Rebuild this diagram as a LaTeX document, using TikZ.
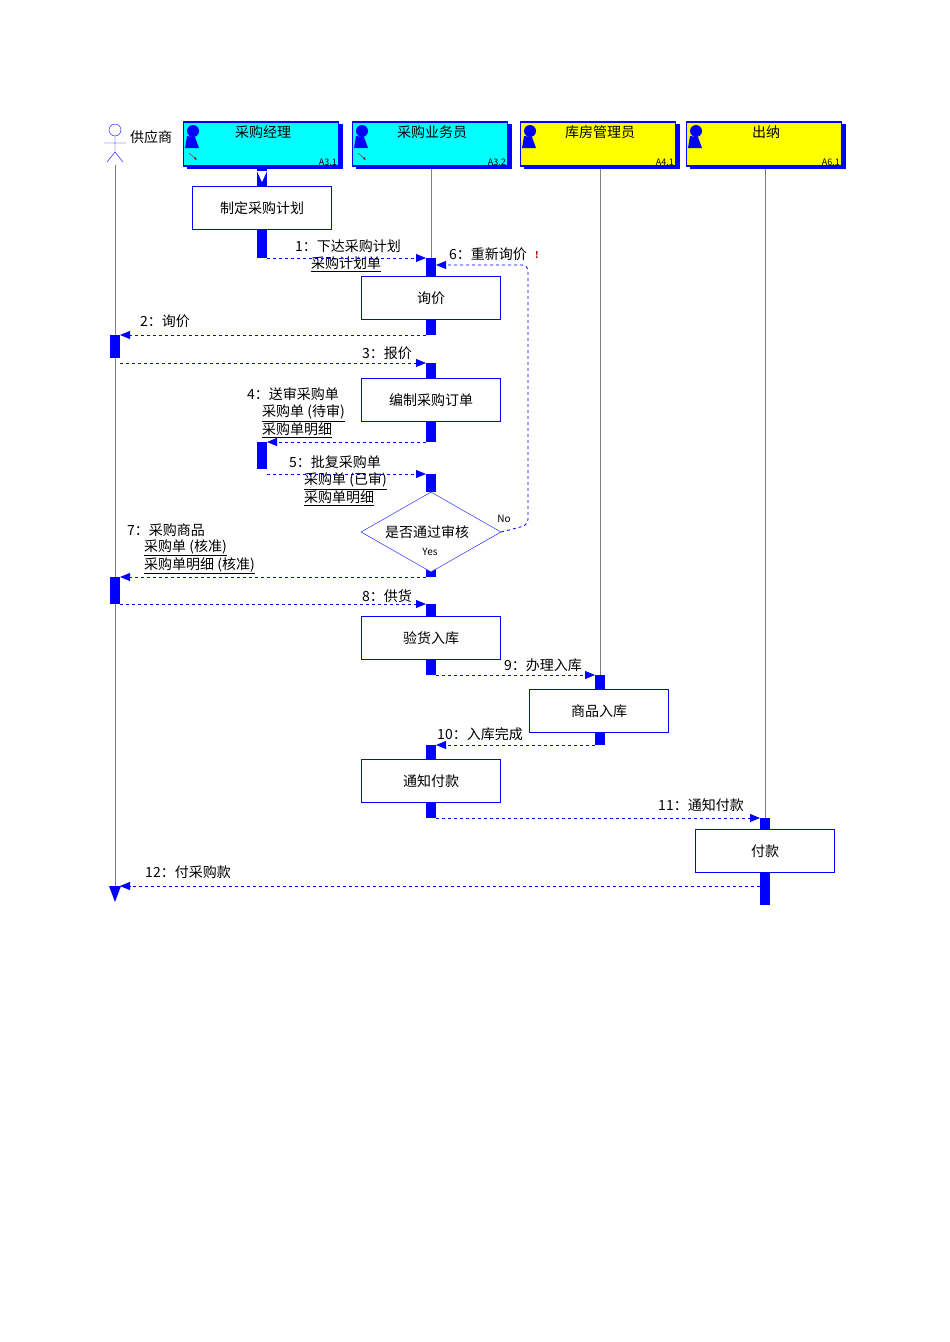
\documentclass[tikz,border=0pt]{standalone}
\usepackage{fontspec}
\setmainfont{Noto Sans CJK SC}
\usetikzlibrary{arrows.meta,shapes.geometric}

\definecolor{aqua}{RGB}{0,255,255}
\definecolor{lemon}{RGB}{255,255,0}
\tikzset{
  role/.style={draw=blue, line width=1.2pt, minimum width=155pt, minimum height=44pt, inner sep=0pt},
  task/.style={draw=blue, fill=white, minimum width=139pt, minimum height=43pt, inner sep=0pt},
  bar/.style={fill=blue, draw=none},
  life/.style={draw=gray, line width=0.8pt},
  msg/.style={draw=blue, dashed, line width=0.8pt, -{Triangle[length=10pt,width=8pt]}},
  lbl/.style={font=\fontsize{14}{16}\selectfont, inner sep=1pt}
}

\begin{document}
\begin{tikzpicture}[x=1pt,y=-1pt]
  \fill[white] (0,0) rectangle (950,1342);

  % lifelines
  \draw[life] (115,165) -- (115,890);
  \draw[life] (431,167) -- (431,258);
  \draw[life] (600,167) -- (600,677);
  \draw[life] (765,167) -- (765,818);

  % actor
  \draw[blue] (115,130) circle (6pt);
  \draw[blue] (115,136) -- (115,152) (104,143) -- (126,143) (107,162) -- (115,152) -- (123,162);
  \node[lbl, anchor=west] (sup) at (129,137) {供应商};

  % roles
  \foreach \cx/\col/\name/\code/\id in {263/aqua/采购经理/A3.1/r1, 432/aqua/采购业务员/A3.2/r2, 600/lemon/库房管理员/A4.1/r3, 766/lemon/出纳/A6.1/r4} {
    \fill[blue] (\cx-76,124) rectangle (\cx+80,169);
    \node[role, fill=\col] (\id) at (\cx-2,144) {};
    \node[lbl] at (\cx,132) {\name};
    \node[font=\fontsize{9}{10}\selectfont, anchor=south east, inner sep=1pt] at (\cx+75,167) {\code};
    \fill[blue] (\cx-70,131) circle (6pt);
    \fill[blue] (\cx-76,136) -- (\cx-68,137) -- (\cx-64,148) -- (\cx-78,148) -- cycle;
  }
  \draw[red!60!black, -{Latex[length=3pt]}] (189,153) -- (197,160);
  \draw[red!60!black, -{Latex[length=3pt]}] (358,153) -- (366,160);

  % activations
  \fill[bar] (257,167) rectangle (267,188);
  \fill[white] (257,171) -- (267,171) -- (262,182) -- cycle;
  \foreach \x/\a/\b in {262/229/258, 431/258/277, 431/320/335, 115/335/358, 431/363/378,
      431/421/442, 262/442/469, 431/474/492, 431/562/577, 115/577/604, 431/604/617,
      431/660/675, 600/675/690, 600/733/745, 431/745/760, 431/803/818, 765/818/830, 765/873/905}
    \fill[bar] (\x-5,\a) rectangle (\x+5,\b);
  \fill[blue] (109,886) -- (121,886) -- (115,902) -- cycle;

  % tasks
  \node[task] (plan) at (262,208) {\fontsize{14}{16}\selectfont 制定采购计划};
  \node[task] (ask) at (431,298) {\fontsize{14}{16}\selectfont 询价};
  \node[task] (order) at (431,400) {\fontsize{14}{16}\selectfont 编制采购订单};
  \node[diamond, draw=blue, fill=white, aspect=1.75, minimum width=140pt, minimum height=80pt, inner sep=0pt] (check) at (431,532) {};
  \node[lbl] at (427,532) {是否通过审核};
  \node[font=\itshape\fontsize{10}{11}\selectfont] at (504,519) {No};
  \node[font=\itshape\fontsize{10}{11}\selectfont] at (430,552) {Yes};
  \node[task] (recv) at (431,638) {\fontsize{14}{16}\selectfont 验货入库};
  \node[task] (store) at (599,711) {\fontsize{14}{16}\selectfont 商品入库};
  \node[task] (notify) at (431,781) {\fontsize{14}{16}\selectfont 通知付款};
  \node[task] (pay) at (765,851) {\fontsize{14}{16}\selectfont 付款};

  % message ends
  \foreach \n/\x/\y in {m1a/267/258, m1b/426/258, m2a/426/335, m2b/120/335, m3a/120/363, m3b/426/363,
      m4a/426/442, m4b/267/442, m5a/267/474, m5b/426/474, m7a/426/577, m7b/120/577,
      m8a/120/604, m8b/426/604, m9a/436/675, m9b/595/675, m10a/595/745, m10b/436/745,
      m11a/436/818, m11b/760/818, m12a/760/886, m12b/120/886, m6a/436/265, m6c/528/525}
    \coordinate (\n) at (\x,\y);

  % messages
  \draw[msg] (m1a) -- (m1b);
  \draw[msg, rounded corners=6pt] (check.east) -- (m6c) -- (528,265) -- (m6a);
  \draw[msg] (m2a) -- (m2b);
  \draw[msg] (m3a) -- (m3b);
  \draw[msg] (m4a) -- (m4b);
  \draw[msg] (m5a) -- (m5b);
  \draw[msg] (m7a) -- (m7b);
  \draw[msg] (m8a) -- (m8b);
  \draw[msg] (m9a) -- (m9b);
  \draw[msg] (m10a) -- (m10b);
  \draw[msg] (m11a) -- (m11b);
  \draw[msg] (m12a) -- (m12b);

  % labels
  \node[lbl] at (348,246) {1：下达采购计划};
  \node[lbl, anchor=west] at (310,264) {\underline{采购计划单}};
  \node[lbl] at (488,254) {6：重新询价};
  \node[font=\bfseries\itshape\small, text=red!70!black] at (537,255) {!};
  \node[lbl] at (165,321) {2：询价};
  \node[lbl] at (387,353) {3：报价};
  \node[lbl] at (293,394) {4：送审采购单};
  \node[lbl, anchor=west] at (261,413) {\underline{采购单 (待审)}};
  \node[lbl, anchor=west] at (261,430) {\underline{采购单明细}};
  \node[lbl] at (335,462) {5：批复采购单};
  \node[lbl, anchor=west] at (303,481) {\underline{采购单 (已审)}};
  \node[lbl, anchor=west] at (303,498) {\underline{采购单明细}};
  \node[lbl] at (166,530) {7：采购商品};
  \node[lbl, anchor=west] at (143,548) {\underline{采购单 (核准)}};
  \node[lbl, anchor=west] at (143,566) {\underline{采购单明细 (核准)}};
  \node[lbl] at (387,596) {8：供货};
  \node[lbl] at (543,665) {9：办理入库};
  \node[lbl] at (480,734) {10：入库完成};
  \node[lbl] at (701,805) {11：通知付款};
  \node[lbl] at (188,872) {12：付采购款};
\end{tikzpicture}
\end{document}
